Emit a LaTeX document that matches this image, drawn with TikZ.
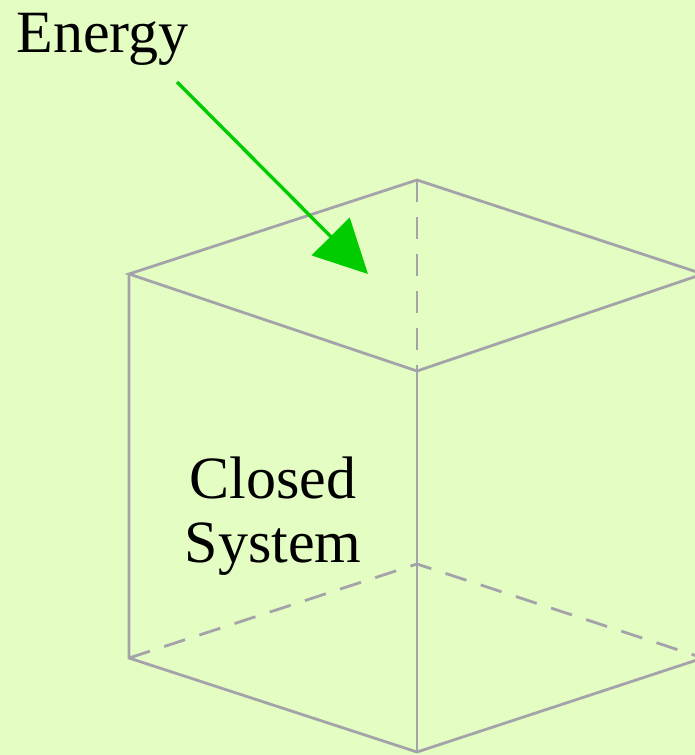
\documentclass[tikz,border=0pt]{standalone}
\usepackage{fontspec}
\setmainfont{Liberation Serif}
\usepackage{tikz}
\usetikzlibrary{arrows.meta,positioning,calc}
\definecolor{paper}{HTML}{E4FDC3}
\definecolor{edgegray}{HTML}{A5A3AA}
\definecolor{energygreen}{HTML}{00CC00}
\tikzset{
  cubeedge/.style={draw=edgegray,line width=1.4pt,line join=miter},
  hiddenedge/.style={cubeedge,dash pattern=on 11pt off 7.5pt},
  energyarr/.style={-{Triangle[length=26.5pt,width=26.5pt]},line width=1.7pt,color=energygreen},
  lbl/.style={font=\fontsize{30}{32}\selectfont,text=black,inner sep=0pt},
}

\begin{document}
\begin{tikzpicture}[x=0.5pt,y=-0.5pt]
  \useasboundingbox (0,0) rectangle (695,755);
  \fill[paper] (0,0) rectangle (695,755);
  \clip (0,0) rectangle (695,755);
  % cube corners (t = top, b = bottom; l, r, f = front, k = back)
  \coordinate (tl) at (129,274);
  \coordinate (tk) at (417,180);
  \coordinate (tr) at (703,274);
  \coordinate (tf) at (417,371);
  \coordinate (bl) at (129,658);
  \coordinate (bk) at (417,564);
  \coordinate (br) at (703,658);
  \coordinate (bf) at (417,752);
  % hidden edges
  \draw[hiddenedge] (bl) -- (bk) -- (br);
  \draw[hiddenedge] (tk) -- (tf);
  % visible edges
  \draw[cubeedge] (tl) -- (tk) -- (tr) -- (tf) -- cycle;
  \draw[cubeedge] (tl) -- (bl) -- (bf) -- (br) -- (tr);
  \draw[cubeedge] (tf) -- (bf);
  % labels
  \node[lbl,anchor=base west] (energy) at (16,52) {Energy};
  \node[lbl,align=center] (system) at (273,516) {Closed\\System};
  % energy flow into the box
  \coordinate (heatsrc) at (177,82);
  \coordinate (heatin) at (368,274);
  \draw[energyarr] (heatsrc) -- (heatin);
\end{tikzpicture}
\end{document}
